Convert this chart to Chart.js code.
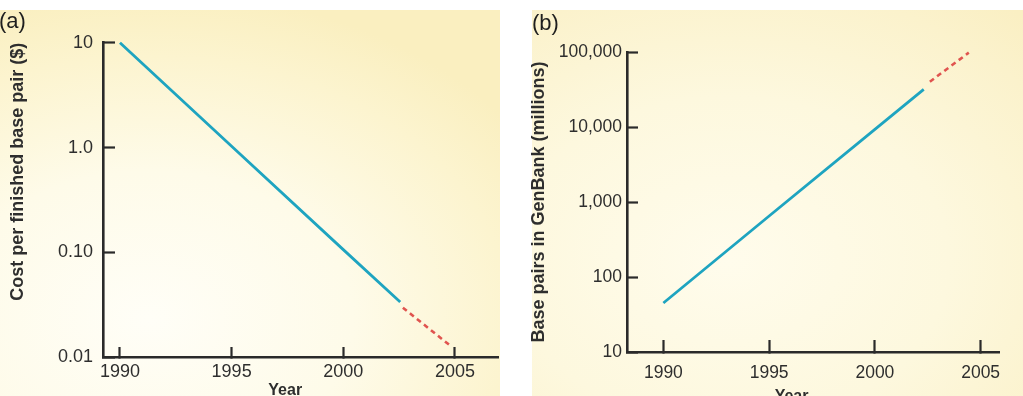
<!DOCTYPE html>
<html>
<head>
<meta charset="utf-8">
<script src="https://cdn.jsdelivr.net/npm/chart.js@4.4.1/dist/chart.umd.min.js"></script>
<style>
  html, body { margin:0; padding:0; background:#ffffff; width:1023px; height:396px; overflow:hidden; position:relative; }
  .bg { position:absolute; }
  #bgA { left:0; top:10px; width:500px; height:386px;
    background: radial-gradient(ellipse 90% 85% at 30% 80%, #fffef7 0%, #fefbe9 45%, #fcf4cf 80%, #faefc0 100%); }
  #bgB { left:532px; top:10px; width:491px; height:386px;
    background: radial-gradient(ellipse 90% 85% at 40% 65%, #fffcec 0%, #fdf8de 50%, #fbf2cc 85%, #faefc3 100%); }
  .wrap { position:absolute; }
  #wa { left:0; top:10px; width:500px; height:400px; }
  #wb { left:528px; top:10px; width:495px; height:400px; }
  .panel { position:absolute; font-family:"Liberation Sans", Arial, sans-serif; font-size:22px; color:#1e1e1e; line-height:1; }
</style>
</head>
<body>
<div class="bg" id="bgA"></div>
<div class="bg" id="bgB"></div>
<div class="wrap" id="wa"><canvas id="ca" width="500" height="400"></canvas></div>
<div class="wrap" id="wb"><canvas id="cb" width="495" height="400"></canvas></div>
<div class="panel" style="left:-1px;top:10px;">(a)</div>
<div class="panel" style="left:532px;top:12px;">(b)</div>
<script>
// ---------- data ----------
const xTickValues = [1990, 1995, 2000, 2005];
const xTickLabels = ['1990', '1995', '2000', '2005'];

// Panel (a): cost per finished base pair ($)
const yearsSolidA = [1990, 1995, 2000, 2002.55];
const costSolidA  = [10, 1.03, 0.106, 0.0335];
const yearsDashA  = [2002.67, 2004.86];
const costDashA   = [0.0296, 0.0125];
const yTickValuesA = [0.01, 0.1, 1, 10];
const yTickLabelsA = ['0.01', '0.10', '1.0', '10'];

// Panel (b): base pairs in GenBank (millions)
const yearsSolidB = [1990, 1995, 2000, 2002.31];
const bpSolidB    = [45, 650, 9300, 31800];
const yearsDashB  = [2002.6, 2004.44];
const bpDashB     = [40200, 98000];
const yTickValuesB = [10, 100, 1000, 10000, 100000];
const yTickLabelsB = ['10', '100', '1,000', '10,000', '100,000'];

// ---------- helpers ----------
const FAM = '"Liberation Sans", Arial, Helvetica, sans-serif';
const AXIS = '#2a2a2a';
const TEAL = '#1ea4c0';
const RED = '#e0544f';
const TXT = '#2e2e2e';
const pts = (xs, ys) => xs.map((x, i) => ({x: x, y: ys[i]}));

// x-axis title drawn at a position along the x scale
const xTitlePlugin = {
  id: 'xTitle',
  afterDraw(chart, args, opts) {
    const sx = chart.scales.x;
    const ctx = chart.ctx;
    ctx.save();
    ctx.font = 'bold 16px ' + FAM;
    ctx.fillStyle = TXT;
    ctx.textAlign = 'center';
    ctx.textBaseline = 'alphabetic';
    ctx.fillText(opts.text, sx.getPixelForValue(opts.at), sx.bottom - opts.fromBottom);
    ctx.restore();
  }
};

function makeChart(id, cfg) {
  return new Chart(document.getElementById(id), {
    type: 'line',
    data: {
      datasets: [
        { data: pts(cfg.xs1, cfg.ys1), borderColor: TEAL, borderWidth: 2.8, pointRadius: 0, tension: 0, clip: false },
        { data: pts(cfg.xs2, cfg.ys2), borderColor: RED, borderWidth: 2.6, borderDash: [5, 4], pointRadius: 0, tension: 0, clip: false }
      ]
    },
    plugins: [xTitlePlugin],
    options: {
      responsive: false,
      animation: false,
      events: [],
      layout: { padding: cfg.pad },
      plugins: {
        legend: { display: false }, tooltip: { enabled: false }, title: { display: false },
        xTitle: { text: 'Year', at: cfg.xtitleAt, fromBottom: cfg.xtitleFromBottom }
      },
      scales: {
        x: {
          type: 'linear', min: cfg.xmin, max: cfg.xmax,
          afterBuildTicks: s => { s.ticks = xTickValues.map(v => ({ value: v })); },
          afterFit: s => { s.height = cfg.xh; },
          ticks: { autoSkip: false, maxRotation: 0, padding: cfg.xpad, color: TXT,
                   font: { family: FAM, size: cfg.tickSize },
                   callback: v => xTickLabels[xTickValues.indexOf(v)] },
          grid: { drawOnChartArea: false, drawTicks: true, tickLength: cfg.xtl, tickWidth: 2.2, tickColor: AXIS },
          border: { display: true, color: AXIS, width: 2.6 },
          title: { display: false }
        },
        y: {
          type: 'logarithmic', min: cfg.ymin, max: cfg.ymax,
          afterBuildTicks: s => { s.ticks = cfg.yv.map(v => ({ value: v })); },
          afterFit: s => { s.width = cfg.yw; },
          ticks: { autoSkip: false, padding: cfg.ypad, color: TXT,
                   font: { family: FAM, size: cfg.tickSize },
                   callback: v => { const i = cfg.yv.findIndex(t => Math.abs(t - v) / t < 1e-6); return i >= 0 ? cfg.yl[i] : ''; } },
          grid: { drawOnChartArea: false, drawTicks: true, tickLength: cfg.ytl, tickWidth: 2.2, tickColor: AXIS },
          border: { display: true, color: AXIS, width: 2.6 },
          title: { display: true, text: cfg.ytitle, color: TXT, align: cfg.yalign,
                   font: { family: FAM, size: 18, weight: 'bold' },
                   padding: { top: cfg.ytitlePad, bottom: 0 } }
        }
      }
    }
  });
}

makeChart('ca', {
  xs1: yearsSolidA, ys1: costSolidA, xs2: yearsDashA, ys2: costDashA,
  pad: { left: 0, top: 29, right: 2, bottom: 0 },
  xmin: 1989.24, xmax: 2006.93, xh: 53, xpad: 14.6, xtl: -10,
  xtitleAt: 1997.4, xtitleFromBottom: 15.5,
  ymin: 0.01, ymax: 10, yv: yTickValuesA, yl: yTickLabelsA, yw: 103, ypad: 22, ytl: -12,
  tickSize: 18, ytitle: 'Cost per finished base pair ($)', yalign: 'end', ytitlePad: 7
});

makeChart('cb', {
  xs1: yearsSolidB, ys1: bpSolidB, xs2: yearsDashB, ys2: bpDashB,
  pad: { left: 0, top: 42, right: 0, bottom: 0 },
  xmin: 1988.28, xmax: 2005.88, xh: 58, xpad: 22.9, xtl: -12,
  xtitleAt: 1996.06, xtitleFromBottom: 9.5,
  ymin: 10, ymax: 100000, yv: yTickValuesB, yl: yTickLabelsB, yw: 99, ypad: 16, ytl: -11,
  tickSize: 17.5, ytitle: 'Base pairs in GenBank (millions)', yalign: 'center', ytitlePad: 0.2
});
</script>
</body>
</html>
